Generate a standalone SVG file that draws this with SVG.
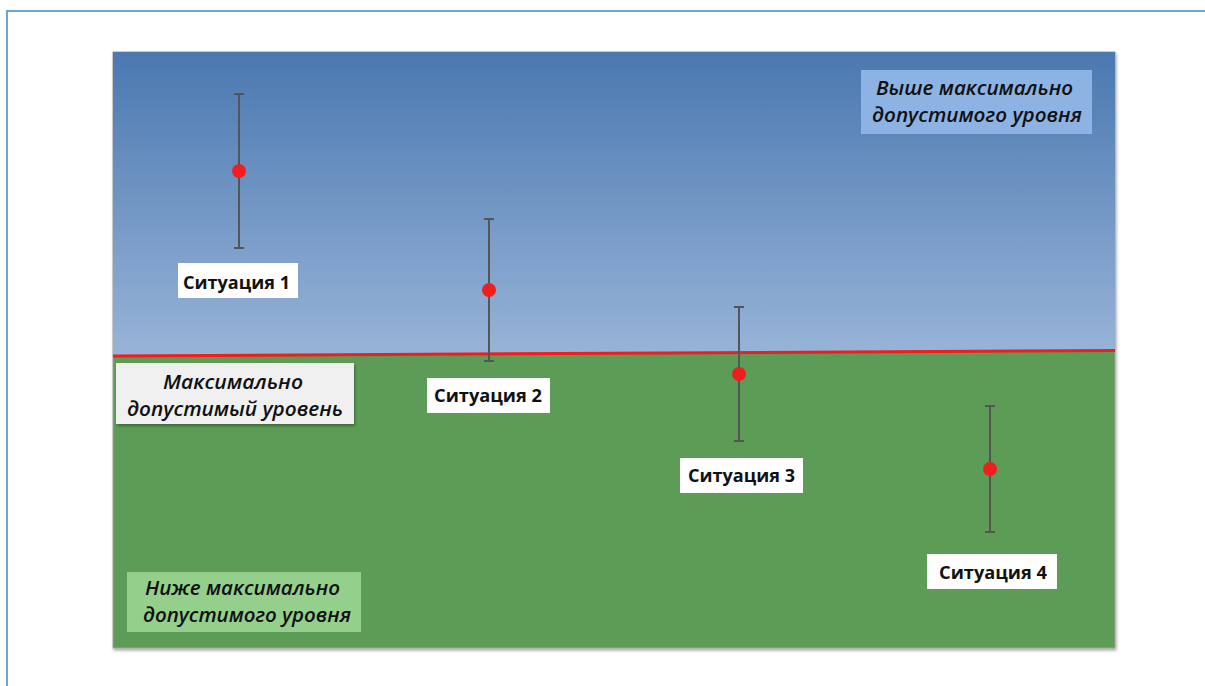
<svg xmlns="http://www.w3.org/2000/svg" width="1205" height="686" viewBox="0 0 1205 686">
  <defs>
    <linearGradient id="sky" x1="0" y1="0" x2="0" y2="1">
      <stop offset="0" stop-color="#4a78b0"/>
      <stop offset="1" stop-color="#98b4d8"/>
    </linearGradient>
    <filter id="sh" x="-5%" y="-5%" width="110%" height="115%">
      <feDropShadow dx="1" dy="2" stdDeviation="1.5" flood-color="#000" flood-opacity="0.35"/>
    </filter>
  </defs>
  <style>
    .bar { stroke: #555; stroke-width: 2; fill: none; }
    .dot { fill: #f01e1e; }
    .lblbox { fill: #ffffff; }
    .lbl { font-family: "Open Sans", "Liberation Sans", sans-serif; font-weight: bold; font-size: 18px; fill: #111; }
    .zone { font-family: "Open Sans", "Liberation Sans", sans-serif; font-style: italic; font-weight: 600; font-size: 19px; fill: #111; }
  </style>
  <rect x="0" y="0" width="1205" height="686" fill="#ffffff"/>
  <rect x="7" y="11" width="1220" height="700" fill="none" stroke="#6fa3dc" stroke-width="2"/>

  <g id="chart">
    <rect x="113" y="52" width="1002" height="596" fill="#5d9c57" stroke="#a0a0a0" stroke-width="1" filter="url(#sh)"/>
    <polygon points="113,52 1115,52 1115,351 113,356" fill="url(#sky)"/>
    <line x1="113" y1="356" x2="1115" y2="350.5" stroke="#f21c1c" stroke-width="3"/>
  </g>

  <g id="zone-above">
    <rect x="861" y="70" width="231" height="64" fill="#8cb3e3"/>
    <text class="zone" x="876" y="95" textLength="197" lengthAdjust="spacingAndGlyphs">Выше максимально</text>
    <text class="zone" x="872" y="122" textLength="210" lengthAdjust="spacingAndGlyphs">допустимого уровня</text>
  </g>

  <g id="zone-limit">
    <rect x="116" y="363" width="238" height="61" fill="#f0f0f0" filter="url(#sh)"/>
    <text class="zone" x="163" y="389" textLength="140" lengthAdjust="spacingAndGlyphs">Максимально</text>
    <text class="zone" x="127" y="416" textLength="216" lengthAdjust="spacingAndGlyphs">допустимый уровень</text>
  </g>

  <g id="zone-below">
    <rect x="127" y="572" width="234" height="60" fill="#94d08b"/>
    <text class="zone" x="145" y="595" textLength="195" lengthAdjust="spacingAndGlyphs">Ниже максимально</text>
    <text class="zone" x="143" y="622" textLength="208" lengthAdjust="spacingAndGlyphs">допустимого уровня</text>
  </g>

  <g id="connectors">
    <path class="bar" d="M239,94 V248 M234,94 H244 M234,248 H244"/>
    <path class="bar" d="M489,219 V361 M484,219 H494 M484,361 H494"/>
    <path class="bar" d="M739,307 V441 M734,307 H744 M734,441 H744"/>
    <path class="bar" d="M990,406 V532 M985,406 H995 M985,532 H995"/>
  </g>

  <g id="situation-1">
    <circle class="dot" cx="239" cy="171" r="7"/>
    <rect class="lblbox" x="178" y="263" width="120" height="35"/>
    <text class="lbl" x="183" y="289" textLength="107" lengthAdjust="spacingAndGlyphs">Ситуация 1</text>
  </g>
  <g id="situation-2">
    <circle class="dot" cx="489" cy="290" r="7"/>
    <rect class="lblbox" x="427" y="378" width="123" height="35"/>
    <text class="lbl" x="434" y="402" textLength="108" lengthAdjust="spacingAndGlyphs">Ситуация 2</text>
  </g>
  <g id="situation-3">
    <circle class="dot" cx="739" cy="374" r="7"/>
    <rect class="lblbox" x="680" y="458" width="123" height="35"/>
    <text class="lbl" x="688" y="482" textLength="107" lengthAdjust="spacingAndGlyphs">Ситуация 3</text>
  </g>
  <g id="situation-4">
    <circle class="dot" cx="990" cy="469" r="7"/>
    <rect class="lblbox" x="927" y="554" width="130" height="35"/>
    <text class="lbl" x="939" y="579" textLength="108" lengthAdjust="spacingAndGlyphs">Ситуация 4</text>
  </g>
</svg>
